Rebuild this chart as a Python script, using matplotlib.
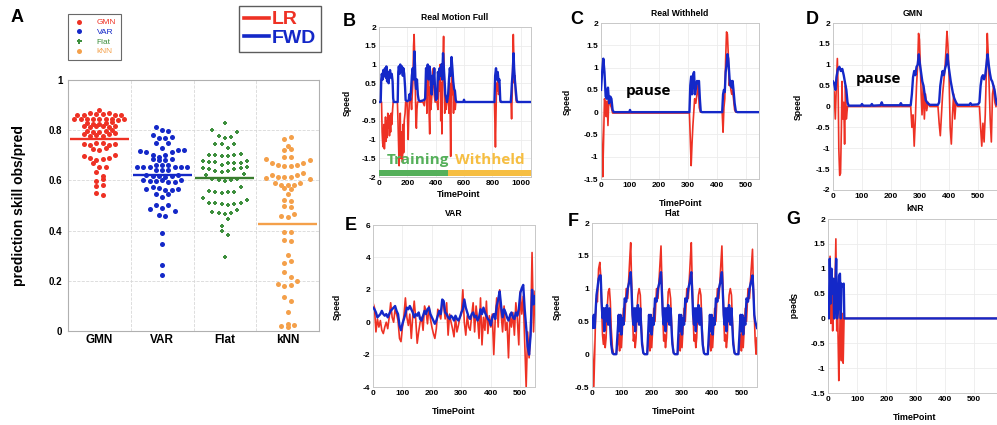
import numpy as np
import matplotlib
matplotlib.use("Agg")
import matplotlib.pyplot as plt
from matplotlib.lines import Line2D

plt.rcParams['font.family'] = ['Liberation Sans', 'DejaVu Sans']
plt.rcParams['font.weight'] = 'bold'

RED = '#ee3124'
BLUE = '#1428c8'
GREEN = '#3d8f3d'
GREEN_LINE = '#3a7d2f'
ORANGE = '#f4a04a'

# ---------------- panel A: prediction skill, one list per row of dots ----------------
categories = ['GMN', 'VAR', 'Flat', 'kNN']
gmn_rows = [
    [0.880],
    [0.862, 0.861, 0.867, 0.865, 0.865, 0.869, 0.860, 0.862],
    [0.843, 0.845, 0.846, 0.843, 0.843, 0.846, 0.843, 0.840, 0.843],
    [0.830, 0.826, 0.826, 0.829, 0.832],
    [0.817, 0.812, 0.815, 0.817, 0.814, 0.816],
    [0.798, 0.793, 0.793, 0.798, 0.800],
    [0.785, 0.778, 0.780, 0.778, 0.783, 0.787],
    [0.744, 0.742, 0.748, 0.750, 0.742, 0.746],
    [0.727, 0.722, 0.731],
    [0.697, 0.689, 0.681, 0.684, 0.689, 0.701],
    [0.670, 0.652, 0.652],
    [0.632, 0.619],
    [0.598, 0.606],
    [0.578, 0.583],
    [0.548, 0.542],
]
var_rows = [
    [0.813, 0.801, 0.797],
    [0.780, 0.770, 0.770, 0.774],
    [0.748, 0.728, 0.750],
    [0.718, 0.712, 0.700, 0.695, 0.700, 0.712, 0.720, 0.720],
    [0.685, 0.680, 0.680, 0.686],
    [0.655, 0.652, 0.652, 0.660, 0.660, 0.660, 0.652, 0.652, 0.652],
    [0.640, 0.642, 0.642],
    [0.622, 0.618, 0.618, 0.615, 0.618, 0.620],
    [0.600, 0.597, 0.597, 0.600, 0.593, 0.593, 0.600],
    [0.565, 0.572, 0.568, 0.560, 0.562, 0.565],
    [0.545, 0.535, 0.545],
    [0.485, 0.503, 0.490, 0.503, 0.480],
    [0.462, 0.458],
    [0.389], [0.345], [0.263], [0.223],
]
flat_rows = [
    [0.827],
    [0.800, 0.775, 0.770, 0.774, 0.792],
    [0.745, 0.745, 0.730, 0.745],
    [0.702, 0.700, 0.698, 0.698, 0.702, 0.706],
    [0.678, 0.675, 0.675, 0.660, 0.668, 0.671, 0.671, 0.678],
    [0.648, 0.644, 0.637, 0.634, 0.637, 0.644, 0.648, 0.655],
    [0.620, 0.605, 0.602, 0.596, 0.602, 0.605, 0.625],
    [0.559, 0.555, 0.548, 0.554, 0.555, 0.575],
    [0.529, 0.511, 0.511, 0.506, 0.502, 0.506, 0.511, 0.522],
    [0.475, 0.471, 0.466, 0.471, 0.482],
    [0.420, 0.445],
    [0.398, 0.382],
    [0.293],
]
knn_rows = [
    [0.764, 0.771],
    [0.738],
    [0.723, 0.725],
    [0.695, 0.695],
    [0.685, 0.670, 0.660, 0.657, 0.657, 0.660, 0.668, 0.680],
    [0.608, 0.620, 0.615, 0.613, 0.614, 0.620, 0.628, 0.605],
    [0.590, 0.582, 0.581, 0.581, 0.589],
    [0.570, 0.566],
    [0.546],
    [0.520, 0.517],
    [0.500, 0.493],
    [0.458, 0.453, 0.465],
    [0.393, 0.395],
    [0.364, 0.357],
    [0.303],
    [0.270, 0.278],
    [0.234, 0.216],
    [0.187, 0.178, 0.183, 0.200],
    [0.134, 0.120],
    [0.077],
    [0.028],
    [0.020, 0.015, 0.025],
]
skill_means = [0.765, 0.620, 0.611, 0.427]

# ---------------- panel B: real motion full ----------------
tB_fwd = [0, 12, 16, 20, 26, 30, 36, 42, 48, 52, 57, 62, 68, 72, 78, 84, 90, 96, 100, 104,
          132, 136, 140, 146, 150, 156, 162, 168, 172, 178, 184, 188, 200, 210, 214, 220,
          226, 232, 238, 244, 250, 254, 258, 262, 268, 274, 280, 290, 318, 326, 332, 338,
          344, 350, 356, 362, 368, 372, 378, 384, 390, 396, 402, 410, 416, 422, 428, 434,
          440, 446, 452, 458, 464, 468, 474, 480, 488, 494, 500, 506, 512, 518, 524, 530,
          536, 542, 548, 596, 600, 604, 815, 820, 826, 832, 838, 844, 850, 856, 862, 930,
          934, 938, 944, 950, 954, 960, 966, 972, 978, 1070]
fwd_B = [0.0, 0.0, 0.6, 0.75, 0.6, 0.85, 0.7, 0.9, 0.65, 0.95, 0.55, 0.8, 0.5, 0.7, 0.85, 0.65, 0.75, 0.55, 0.1, 0.0,
         0.0, 0.8, 0.95, 0.75, 1.0, 0.8, 0.95, 0.7, 0.9, 0.75, 0.4, 0.05, 0.02, 0.05, 0.2, 0.05,
         0.3, 0.7, 0.9, 0.6, 1.35, 1.0, 0.5, 0.35, 0.6, 0.2, 0.05, 0.02, 0.05, 0.1, 0.9, 0.7,
         1.0, 0.6, 0.95, 0.8, 0.4, 0.2, 0.7, 0.5, 0.9, 0.3, 0.05, 0.1, 0.8, 0.6, 0.9, 0.7,
         1.0, 0.6, 1.3, 0.9, 0.5, 0.2, 0.1, 0.0, 0.2, 0.6, 0.9, 0.7, 1.2, 0.9, 0.55, 0.35,
         0.3, 0.05, 0.0, 0.0, 0.06, 0.0, 0.0, 0.7, 0.9, 0.6, 0.8, 0.55, 0.6, 0.05, 0.0, 0.0,
         0.2, 0.5, 0.8, 1.3, 0.9, 0.55, 0.3, 0.05, 0.0, 0.0]
tB_lr = [0, 18, 22, 26, 30, 34, 38, 42, 46, 50, 54, 58, 62, 66, 70, 74, 78, 82, 86, 90, 96, 100,
         130, 134, 138, 142, 146, 150, 154, 158, 162, 166, 170, 174, 178, 184, 188, 198, 202,
         206, 210, 214, 224, 230, 236, 240, 244, 248, 252, 256, 260, 264, 268, 272, 310, 320,
         330, 334, 338, 342, 346, 350, 354, 358, 362, 366, 370, 378, 384, 390, 396, 410, 416,
         422, 428, 432, 436, 440, 444, 448, 452, 456, 460, 464, 468, 472, 478, 488, 494, 500,
         506, 510, 514, 518, 522, 526, 530, 534, 538, 542, 815, 818, 822, 826, 830, 834, 840,
         844, 850, 856, 932, 936, 940, 944, 948, 952, 956, 960, 964, 970, 1070]
lr_B = [0.0, 0.0, -0.8, -1.1, -1.2, -0.6, -1.25, -0.9, -0.4, -1.05, -0.5, -0.95, -0.3, -0.7, -0.35, -0.9, -0.5, -0.8, -0.3, -0.6, -0.2, 0.0,
        0.0, -0.5, -1.1, -1.7, -1.2, -0.3, -1.5, -0.8, -1.4, -1.6, -0.6, -1.35, -0.5, -0.3, 0.0, 0.0, -0.5,
        -1.0, -0.4, 0.0, 0.1, -0.2, 0.3, 0.6, 1.5, 1.8, 1.2, 0.5, -0.5, -0.7, -0.2, 0.0, 0.0, -0.1,
        0.3, 0.9, -0.3, 0.6, 0.2, 0.9, -0.35, -0.85, 0.4, -0.2, 0.0, 0.5, 0.9, 0.2, 0.0, 0.0, -0.2,
        0.7, 0.3, 1.0, -0.5, 0.5, -0.85, 0.6, 1.2, 1.75, 0.8, -0.3, 0.2, -0.2, 0.0, 0.1, -0.3, 0.5,
        -1.45, 0.3, 0.8, 0.2, 0.5, -0.3, 0.3, 0.1, -0.2, 0.0, 0.0, -0.5, -1.2, -0.3, 0.5, 0.3, 0.7,
        0.2, 0.4, 0.0, 0.0, -0.45, 0.2, 0.9, 1.8, 1.2, 0.5, 0.7, 0.2, 0.0, 0.0]
train_end = 487
series_end = 1070

# ---------------- panel C: real withheld ----------------
tC_fwd = [0, 4, 8, 12, 16, 20, 24, 28, 32, 36, 40, 44, 98, 100, 102, 305, 308, 311, 314, 318,
          321, 324, 328, 331, 334, 338, 341, 344, 348, 418, 421, 424, 427, 430, 433, 436, 439,
          442, 445, 448, 451, 454, 457, 461, 465, 470, 545]
fwd_C = [0.5, 0.9, 1.2, 0.9, 0.35, 0.3, 0.55, 0.2, 0.35, 0.3, 0.05, 0.0, 0.0, 0.05, 0.0, 0.0, 0.6, 0.8, 0.4, 0.85,
         0.9, 0.4, 0.55, 0.7, 0.65, 0.7, 0.3, 0.02, 0.0, 0.0, 0.4, 0.5, 0.45, 0.9, 1.05, 1.3, 1.2,
         0.9, 0.6, 0.7, 0.55, 0.7, 0.5, 0.2, 0.02, 0.0, 0.0]
tC_lr = [0, 3, 6, 9, 12, 15, 18, 21, 24, 27, 30, 33, 36, 40, 305, 308, 311, 314, 317, 320, 323,
         327, 331, 335, 339, 343, 418, 421, 424, 427, 430, 433, 436, 439, 442, 445, 448, 451,
         454, 457, 461, 465, 545]
lr_C = [0.35, -0.8, -1.45, -0.6, 0.3, 0.2, -0.1, 0.25, -0.3, 0.3, 0.35, 0.15, 0.1, -0.02, -0.02, -0.6, -1.2, -0.7, -0.3, 0.0, 0.3,
        0.2, 0.4, 0.65, 0.1, 0.0, 0.0, -0.45, 0.1, 0.3, 1.2, 1.8, 1.75, 1.3, 0.6, 0.7, 0.5, 0.4,
        0.5, 0.3, 0.05, 0.0, 0.0]

# ---------------- panel D: GMN ----------------
tD_fwd = [0, 4, 8, 12, 17, 22, 27, 32, 37, 42, 46, 50, 54, 96, 100, 104, 130, 134, 138, 164,
          168, 172, 230, 234, 238, 268, 272, 276, 280, 284, 288, 292, 296, 300, 304, 308, 312,
          316, 320, 326, 334, 362, 366, 370, 374, 378, 382, 386, 390, 394, 398, 402, 406, 410,
          414, 418, 424, 430, 470, 474, 478, 500, 505, 509, 513, 517, 521, 525, 529, 533, 537,
          541, 545, 549, 553, 557, 561, 565]
fwd_D = [0.6, 0.55, 0.4, 0.7, 0.9, 0.95, 0.85, 0.9, 0.75, 0.55, 0.4, 0.1, 0.02, 0.02, 0.06, 0.02, 0.02, 0.06, 0.02, 0.03,
         0.1, 0.03, 0.03, 0.08, 0.03, 0.03, 0.3, 0.7, 0.85, 0.75, 0.95, 1.0, 1.25, 1.0, 0.8, 0.6, 0.5,
         0.3, 0.15, 0.08, 0.04, 0.04, 0.1, 0.5, 0.7, 0.85, 0.75, 0.9, 1.0, 1.25, 1.0, 0.8, 0.6, 0.45,
         0.3, 0.2, 0.1, 0.04, 0.04, 0.08, 0.04, 0.05, 0.1, 0.5, 0.7, 0.75, 0.65, 0.75, 1.0, 1.25, 1.0,
         0.8, 0.65, 0.6, 0.5, 0.4, 0.2, 0.05]
tD_lr = [0, 4, 8, 11, 15, 18, 20, 23, 26, 29, 31, 34, 37, 40, 43, 46, 50, 54, 268, 272, 276,
         280, 284, 288, 292, 295, 298, 301, 304, 307, 311, 315, 319, 323, 328, 334, 362, 366,
         370, 374, 378, 382, 386, 390, 393, 396, 400, 404, 408, 412, 416, 420, 424, 430, 505,
         509, 513, 517, 521, 525, 529, 532, 535, 538, 542, 546, 550, 554, 558, 562]
lr_D = [0.4, 0.35, -0.3, 0.4, 1.15, 0.3, -1.0, -1.65, -1.6, -0.5, 0.6, -0.3, 0.1, -0.9, 0.5, -0.3, 0.0, 0.0, 0.0, -0.5, -0.2,
        -0.95, -0.3, 0.5, 1.0, 1.75, 1.6, 1.0, 0.3, -0.2, 0.5, -0.3, 0.3, -0.1, 0.1, 0.0, 0.0, -0.4,
        -0.7, -0.2, 0.3, 0.6, 0.9, 1.4, 1.8, 1.5, 0.8, -0.5, -0.9, -0.2, 0.3, -0.3, 0.1, 0.0, 0.0,
        -0.5, -0.95, -0.4, -0.85, -0.2, 0.9, 1.75, 1.3, 0.6, -0.3, -0.85, 0.3, 0.5, 0.1, 0.0]

# ---------------- panel E: VAR (sampled every 5 time points) ----------------
tE = np.arange(0, 551, 5)
fwd_E = [0.9, 0.8, 0.6, 0.3, 0.4, 0.5, 0.7, 0.5, 0.4, 0.5, 0.3, 0.5, 0.7, 0.8, 0.9, 1.0, 0.7, 0.5, -0.2, -0.5,
         -0.1, 0.2, 0.5, 0.9, 0.8, 1.0, 0.8, 0.6, 0.3, 0.5, 0.4, 0.6, 0.2, 0.1, 0.4, 0.7, 0.5, 0.8, 0.9, 0.5,
         0.3, 0.1, -0.1, 0.1, 0.4, 0.7, 0.5, 1.4, 1.3, 0.6, 0.5, 0.3, 0.2, 0.4, 0.3, 0.1, 0.4, 0.2, 0.1, 0.3,
         0.6, 0.8, 1.4, 0.9, 0.6, 0.3, 0.2, 0.5, 0.6, 0.3, 0.4, 0.1, 0.3, 0.8, 0.5, 0.9, 0.6, 0.4, 0.2, 0.1,
         -0.2, 0.3, 0.5, 0.2, 1.0, 1.4, 1.9, 1.0, 0.3, 0.8, 0.6, 0.3, 0.1, 0.4, 0.6, 0.3, 0.2, 0.6, 0.4, 0.8,
         1.8, 2.1, 2.3, 0.8, -0.3, -1.5, -2.0, -0.8, 2.0, 1.1, 1.6]
lr_E = [1.2, 0.9, -0.6, 0.2, -0.3, 0.1, -0.5, -0.7, -0.3, 0.0, -0.4, 0.3, 1.2, 0.3, 0.0, 0.8, 0.5, 0.1, -1.0, -1.2,
        -0.3, 0.4, 1.5, 0.3, -0.2, 0.5, -1.0, 0.4, 1.3, 0.2, -1.3, -0.6, 0.0, 0.3, -0.5, 1.0, 0.7, -0.1, 1.0, 0.2,
        -0.3, -0.7, -1.0, -0.4, 0.8, 0.5, 0.2, 1.2, 1.0, 0.2, 1.2, -0.8, 0.5, 0.0, -0.4, -0.9, 0.3, -0.6, -0.2, 0.3,
        0.5, 2.0, 0.0, -0.8, 0.4, -0.3, -0.5, 0.4, 1.2, -0.6, 1.0, 0.2, -1.0, 1.5, -1.4, 0.3, -0.5, 1.3, -0.7, 0.4,
        -0.3, 0.5, -2.0, 0.2, 1.5, -0.3, 2.0, 0.5, -0.6, 1.0, -0.5, 0.0, -2.2, 0.5, -0.3, 0.6, -0.8, 1.2, 0.2, -1.4,
        1.9, 0.5, 1.6, -1.2, -4.0, -0.6, -2.2, -0.6, 4.3, -0.6, 1.9]

# ---------------- panel F: Flat ----------------
tF = [0, 3, 6, 9, 12, 15, 18, 22, 26, 29, 32, 35, 38, 41, 44, 47, 50, 54, 58, 61, 64, 68, 72, 81,
      89, 92, 95, 98, 101, 105, 109, 114, 119, 124, 127, 129, 132, 135, 138, 141, 144, 147, 150, 153, 157, 161, 164, 167, 171, 175, 184,
      190, 193, 196, 199, 202, 206, 210, 215, 220, 225, 228, 230, 233, 236, 239, 242, 245, 248, 251, 254, 258, 262, 265, 268, 272, 276, 285,
      291, 294, 297, 300, 303, 307, 311, 316, 321, 326, 329, 331, 334, 337, 340, 343, 346, 349, 352, 355, 359, 363, 366, 369, 373, 377, 386,
      393, 396, 399, 402, 405, 409, 413, 418, 423, 428, 431, 433, 436, 439, 442, 445, 448, 451, 454, 457, 461, 465, 468, 471, 475, 479, 488,
      495, 498, 501, 504, 507, 511, 515, 520, 525, 530, 533, 535, 538, 541, 544, 547, 550]
lr_F = [0.3, -0.1, -0.5, 0.0, 0.6, 0.85, 0.8, 1.3, 1.4, 1.2, 0.75, 0.3, 0.15, 0.3, 0.1, 0.25, 0.65, 0.95, 1.0, 0.8, 0.4, 0.1, 0.0, 0.0,
        0.3, 0.05, 0.55, 0.1, 0.35, 0.7, 0.5, 1.0, 0.85, 1.3, 1.55, 1.7, 1.1, 0.6, 0.2, 0.3, 0.1, 0.25, 0.65, 0.9, 1.0, 0.9, 0.5, 0.2, 0.02, 0.0, 0.0,
        0.3, 0.05, 0.5, 0.1, 0.35, 0.7, 0.5, 1.0, 0.85, 1.25, 1.5, 1.65, 1.1, 0.6, 0.2, 0.3, 0.1, 0.25, 0.6, 0.95, 1.0, 0.85, 0.5, 0.2, 0.02, 0.0, 0.0,
        0.3, 0.05, 0.55, 0.1, 0.35, 0.7, 0.5, 1.0, 0.85, 1.3, 1.55, 1.7, 1.1, 0.6, 0.2, 0.3, 0.1, 0.25, 0.65, 0.9, 1.0, 0.9, 0.5, 0.2, 0.02, 0.0, 0.0,
        0.3, 0.05, 0.55, 0.1, 0.35, 0.7, 0.5, 1.0, 0.85, 1.25, 1.5, 1.65, 1.1, 0.6, 0.2, 0.3, 0.1, 0.25, 0.65, 0.9, 1.0, 0.9, 0.5, 0.2, 0.02, 0.0, 0.0,
        0.3, 0.05, 0.55, 0.1, 0.35, 0.7, 0.5, 1.0, 0.85, 1.25, 1.45, 1.6, 1.0, 0.6, 0.2, 0.0, 0.25]
fwd_F = [0.55, 0.4, 0.6, 0.4, 0.65, 0.9, 1.0, 1.15, 1.2, 1.2, 0.8, 0.55, 0.7, 0.35, 0.7, 0.5, 0.75, 0.45, 0.7, 0.4, 0.15, 0.02, 0.0, 0.0,
         0.6, 0.35, 0.6, 0.3, 0.55, 0.45, 0.85, 0.8, 1.0, 1.1, 1.2, 1.25, 0.95, 0.6, 0.45, 0.7, 0.35, 0.7, 0.5, 0.75, 0.45, 0.7, 0.4, 0.15, 0.02, 0.0, 0.0,
         0.6, 0.35, 0.6, 0.3, 0.55, 0.45, 0.85, 0.8, 1.0, 1.1, 1.2, 1.25, 0.95, 0.6, 0.45, 0.7, 0.35, 0.7, 0.5, 0.75, 0.45, 0.7, 0.4, 0.15, 0.02, 0.0, 0.0,
         0.6, 0.35, 0.6, 0.3, 0.55, 0.45, 0.85, 0.8, 1.0, 1.1, 1.2, 1.25, 0.95, 0.6, 0.45, 0.7, 0.35, 0.7, 0.5, 0.75, 0.45, 0.7, 0.4, 0.15, 0.02, 0.0, 0.0,
         0.6, 0.35, 0.6, 0.3, 0.55, 0.45, 0.85, 0.8, 1.0, 1.1, 1.2, 1.25, 0.95, 0.6, 0.45, 0.7, 0.35, 0.7, 0.5, 0.75, 0.45, 0.7, 0.4, 0.15, 0.02, 0.0, 0.0,
         0.6, 0.35, 0.6, 0.3, 0.55, 0.45, 0.85, 0.8, 1.0, 1.1, 1.15, 1.2, 0.95, 0.6, 0.5, 0.45, 0.4]

# ---------------- panel G: kNR ----------------
tG_fwd = [0, 3, 6, 9, 12, 15, 18, 21, 24, 28, 31, 35, 38, 41, 44, 46, 50, 54, 56, 600]
fwd_G = [0.2, 0.0, 1.2, 0.3, 1.0, 0.5, 0.8, 0.0, 0.3, 1.2, 0.0, 0.2, 0.85, 0.9, 0.0, 0.7, 0.65, 0.7, 0.0, 0.0]
tG_lr = [0, 4, 7, 10, 13, 16, 19, 22, 27, 30, 33, 37, 40, 43, 46, 49, 52, 55, 600]
lr_G = [0.2, 0.0, 1.25, -0.1, 0.95, -0.25, 0.65, 0.0, 1.6, -0.25, 0.2, -1.25, -0.5, 0.7, -0.85, 0.1, -0.9, 0.0, 0.0]

W, H = 997, 425
fig = plt.figure(figsize=(W / 100, H / 100), dpi=100)


def px_axes(x0, y0, x1, y1):
    return fig.add_axes([x0 / W, 1 - y1 / H, (x1 - x0) / W, (y1 - y0) / H])


def px_text(x, y, s, **kw):
    kw.setdefault('ha', 'center')
    kw.setdefault('va', 'center')
    fig.text(x / W, 1 - y / H, s, **kw)


# ---- panel A ----
ax = px_axes(68, 80, 319, 331)
all_rows = [gmn_rows, var_rows, flat_rows, knn_rows]
dot_colors = [RED, BLUE, GREEN, ORANGE]
line_colors = [RED, BLUE, GREEN_LINE, ORANGE]
markers = ['o', 'o', 'P', 'o']
for i, rows in enumerate(all_rows):
    xs, ys = [], []
    for r in rows:
        n = len(r)
        for k, v in enumerate(r):
            xs.append(i + 1 + (k - (n - 1) / 2) * 0.1)
            ys.append(v)
    ax.scatter(xs, ys, s=10 if markers[i] == 'P' else 13, color=dot_colors[i],
               marker=markers[i], linewidths=0, zorder=3)
    ax.plot([i + 1 - 0.47, i + 1 + 0.47], [skill_means[i]] * 2, color=line_colors[i],
            lw=1.7, zorder=4, solid_capstyle='butt')
ax.set_xlim(0.5, 4.5)
ax.set_ylim(0, 1)
ax.set_xticks([1, 2, 3, 4], categories)
ax.set_xticks([1.5, 2.5, 3.5], minor=True)
ax.set_yticks([0, 0.2, 0.4, 0.6, 0.8, 1], ['0', '0.2', '0.4', '0.6', '0.8', '1'])
ax.grid(which='minor', axis='x', ls='--', color='#d8d8d8', lw=0.6)
ax.grid(which='major', axis='y', ls='--', color='#d8d8d8', lw=0.6)
ax.tick_params(which='both', length=0)
ax.tick_params(axis='y', labelsize=7, pad=4)
ax.tick_params(axis='x', labelsize=8.5, pad=2)
for s in ax.spines.values():
    s.set_color('#b0b0b0')
    s.set_linewidth(0.8)
px_text(19, 205, 'prediction skill obs/pred', fontsize=10, rotation=90)

handles = [Line2D([], [], ls='none', marker=m, color=c, markersize=3.6, markeredgewidth=0)
           for m, c in zip(markers, dot_colors)]
leg = fig.legend(handles, categories, loc='upper left', bbox_to_anchor=(68 / W, 1 - 14 / H),
                 frameon=True, fancybox=False, edgecolor='#444444',
                 prop={'weight': 'normal', 'size': 6}, labelcolor=dot_colors,
                 handlelength=1.6, handletextpad=1.3, labelspacing=0.22, borderpad=0.55,
                 borderaxespad=0)
leg.get_frame().set_linewidth(0.8)

lines = [Line2D([], [], color=RED, lw=2.6), Line2D([], [], color=BLUE, lw=2.6)]
leg2 = fig.legend(lines, ['LR', 'FWD'], loc='upper left', bbox_to_anchor=(239 / W, 1 - 6 / H),
                  frameon=True, fancybox=False, edgecolor='#333333',
                  prop={'weight': 'bold', 'size': 14}, labelcolor=[RED, BLUE],
                  handlelength=1.3, handletextpad=0.15, labelspacing=0.05, borderpad=0.25,
                  borderaxespad=0)
leg2.get_frame().set_linewidth(1.0)


# ---- time series panels ----
def speed_panel(rect, t_lr, lr, t_fwd, fwd, xlim, ylim, yticks, xticks):
    a = px_axes(*rect)
    a.plot(t_lr, lr, color=RED, lw=1.2, zorder=2)
    a.plot(t_fwd, fwd, color=BLUE, lw=1.7, zorder=3)
    a.set_xlim(*xlim)
    a.set_ylim(*ylim)
    a.set_xticks(xticks, [f'{v:g}' for v in xticks])
    a.set_yticks(yticks, [f'{v:g}' for v in yticks])
    a.grid(color='#ececec', lw=0.6)
    a.tick_params(length=0, labelsize=6, pad=2)
    for s in a.spines.values():
        s.set_color('#c8c8c8')
        s.set_linewidth(0.7)
    return a


yt_half = [-2, -1.5, -1, -0.5, 0, 0.5, 1, 1.5, 2]
axB = speed_panel((379, 27, 531, 177), tB_lr, lr_B, tB_fwd, fwd_B, (0, 1073), (-2, 2),
                  yt_half, [0, 200, 400, 600, 800, 1000])
axB.barh(-1.9, train_end, left=0, height=0.16, color='#55b05a', zorder=4)
axB.barh(-1.9, series_end - train_end, left=train_end, height=0.16, color='#f6be42', zorder=4)
axB.text(275, -1.55, 'Training', color='#55b05a', fontsize=11, family='Open Sans',
         weight='bold', ha='center', va='center', zorder=5)
axB.text(781, -1.55, 'Withheld', color='#f6be42', fontsize=11, family='Open Sans',
         weight='bold', ha='center', va='center', zorder=5)

axC = speed_panel((601, 23, 759, 179), tC_lr, lr_C, tC_fwd, fwd_C, (0, 545), (-1.5, 2),
                  yt_half[1:], [0, 100, 200, 300, 400, 500])
axC.text(164, 0.48, 'pause', fontsize=11, family='Open Sans', weight='bold',
         ha='center', va='center')

axD = speed_panel((833, 23, 1007, 190), tD_lr, lr_D, tD_fwd, fwd_D, (0, 600), (-2, 2),
                  yt_half, [0, 100, 200, 300, 400, 500])
axD.text(155, 0.66, 'pause', fontsize=11, family='Open Sans', weight='bold',
         ha='center', va='center')

axE = speed_panel((373, 225, 535, 387), tE, lr_E, tE, fwd_E, (0, 550), (-4, 6),
                  [-4, -2, 0, 2, 4, 6], [0, 100, 200, 300, 400, 500])
axF = speed_panel((592, 223, 757, 387), tF, lr_F, tF, fwd_F, (0, 550), (-0.5, 2),
                  [-0.5, 0, 0.5, 1, 1.5, 2], [0, 100, 200, 300, 400, 500])
axG = speed_panel((828, 219, 1003, 393), tG_lr, lr_G, tG_fwd, fwd_G, (0, 600), (-1.5, 2),
                  yt_half[1:], [0, 100, 200, 300, 400, 500])

# titles
for x, y, s in [(455, 17, 'Real Motion Full'), (680, 13, 'Real Withheld'), (913, 14, 'GMN'),
                (454, 214, 'VAR'), (672, 213, 'Flat'), (915, 208, 'kNR')]:
    px_text(x, y, s, fontsize=6.2)

# axis labels
for x, y in [(459, 195), (681, 203), (454, 411), (674, 411), (915, 418)]:
    px_text(x, y, 'TimePoint', fontsize=6.5)
for x, y in [(347, 103), (567, 102), (798, 107), (337, 307), (557, 307)]:
    px_text(x, y, 'Speed', fontsize=6.2, rotation=90)
px_text(792, 306, 'Speed', fontsize=6.2, rotation=270)

# panel letters
for x, y, s in [(17, 18, 'A'), (349, 21, 'B'), (577, 19, 'C'), (812, 20, 'D'),
                (351, 226, 'E'), (573, 221, 'F'), (793, 219, 'G')]:
    px_text(x, y, s, fontsize=13)

fig.savefig('out.png', dpi=100)
